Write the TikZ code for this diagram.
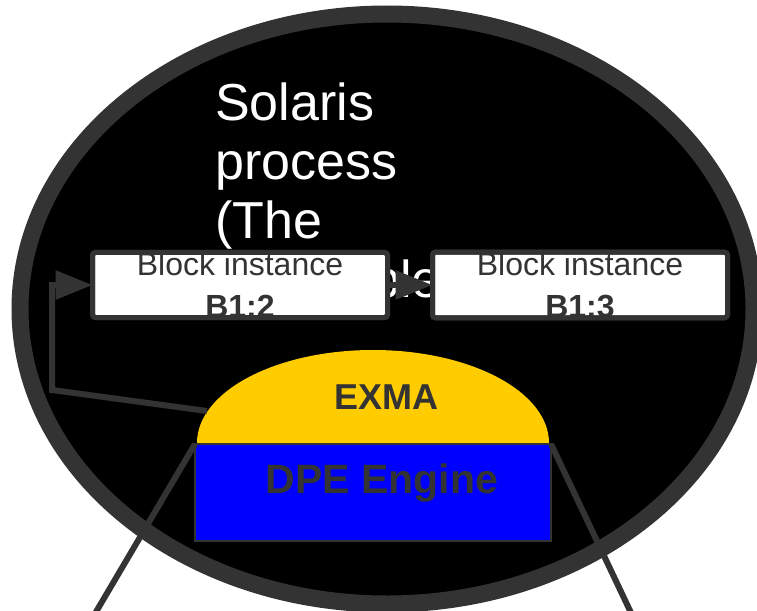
\documentclass[tikz,border=0pt]{standalone}
\usepackage{fontspec}
\setmainfont{Liberation Sans}
\usepackage{tikz}
\usetikzlibrary{arrows.meta,positioning}
\definecolor{rimc}{HTML}{333333}
\definecolor{exmac}{HTML}{FFCC00}
\definecolor{dpec}{HTML}{0000FF}
\newcommand{\fs}[2]{\fontsize{#1}{#2}\selectfont}

\begin{document}
\begin{tikzpicture}[x=1pt,y=-1pt,
  blk/.style={draw=rimc,fill=white,line width=5pt,rounded corners=3pt,outer sep=0pt,inner sep=0pt,
    minimum width=295pt,minimum height=65pt,align=center,text=rimc,font=\fs{32}{42}},
  rim/.style={draw=rimc,line width=5pt,rounded corners=3pt},
  ar/.style={draw=rimc,line width=6pt,-{Triangle[length=37pt,width=28pt]}},
  leg/.style={draw=rimc,line width=6pt},
  big/.style={font=\bfseries\fs{#1}{#1},text=rimc,inner sep=0pt,anchor=base}]
\useasboundingbox (0,0) rectangle (757,610);
% the process
\draw[rimc,line width=17pt,fill=black] (387,309) ellipse[x radius=367,y radius=295];
\node[anchor=north west,inner sep=0pt,align=left,text=white,font=\fs{52}{59}] (proc) at (215,83)
  {Solaris\\process\\(The\\ensemble)};
% engine
\fill[exmac] (197,443) arc[start angle=180,end angle=360,x radius=176,y radius=93] -- cycle;
\node[big=36] (exma) at (386,409) {EXMA};
\node[draw=rimc,line width=1.5pt,fill=dpec,minimum width=356pt,minimum height=97pt,outer sep=0pt] (dpe) at (373,492.5) {};
\node[big=41] (dpetxt) at (382,493) {DPE Engine};
% block instances
\node[blk] (b12) at (240,285) {Block instance\\\textbf{B1:2}};
\node[blk,right=45pt of b12] (b13) {Block instance\\\textbf{B1:3}};
\coordinate (tap) at (207,411);
\draw[ar] (tap) -- (52,390) |- (b12.west);
\draw[ar] (b12) -- (b13);
\foreach \b in {b12,b13}
  \draw[rim] (\b.north west) rectangle (\b.south east);
% legs
\coordinate (footl) at (93,617);
\coordinate (footr) at (633,617);
\draw[leg] (dpe.north west) -- (footl);
\draw[leg] (dpe.north east) -- (footr);
\end{tikzpicture}
\end{document}
